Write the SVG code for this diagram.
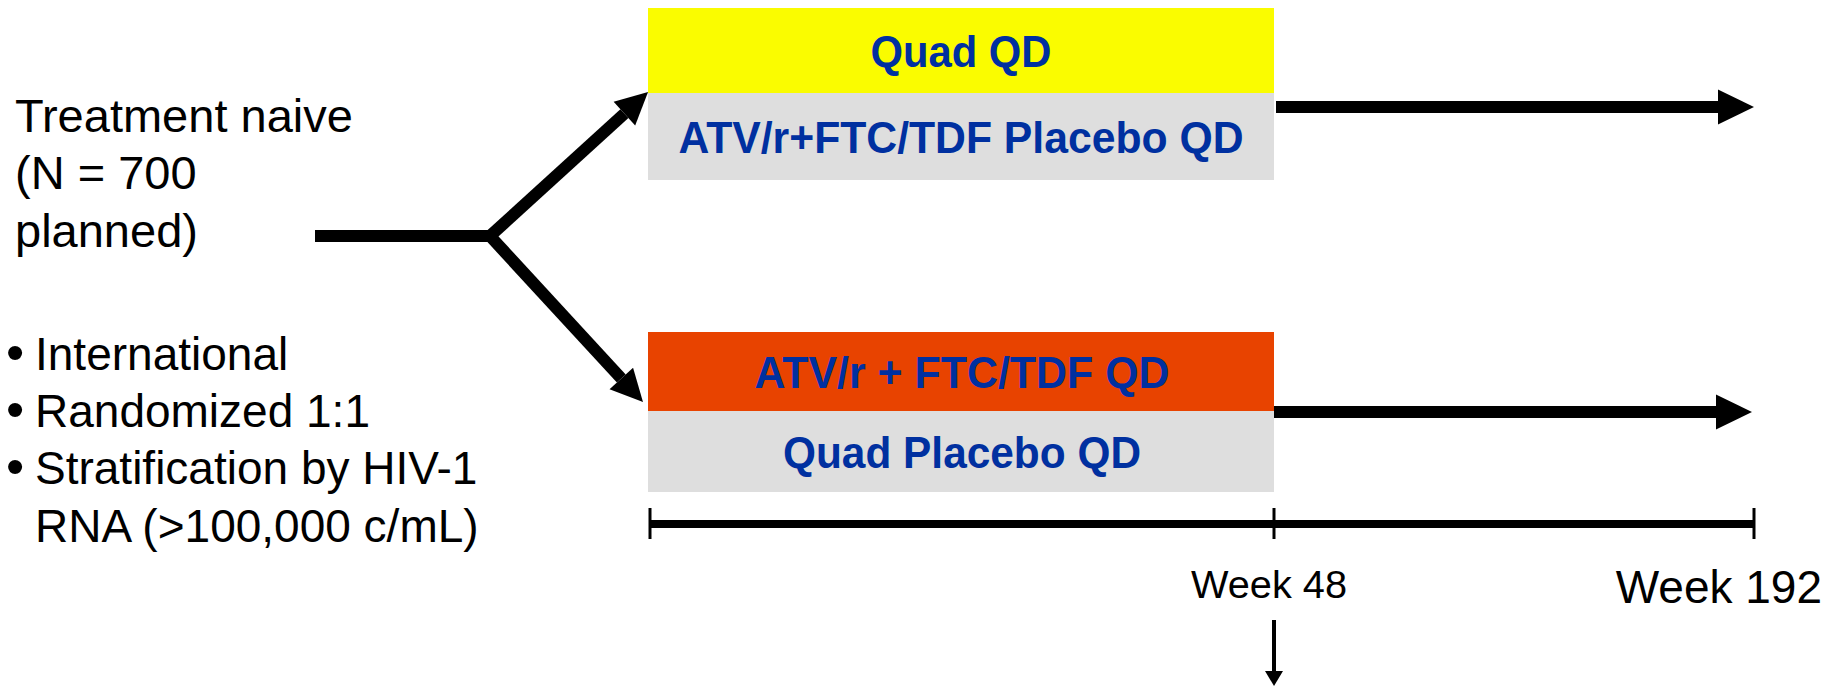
<svg xmlns="http://www.w3.org/2000/svg" width="1831" height="686" viewBox="0 0 1831 686">
<style>
.lbl{font-family:"Liberation Sans",Arial,sans-serif;fill:#000}
.box{font-family:"Liberation Sans",Arial,sans-serif;font-weight:bold;font-size:44px;fill:#0030A0;text-anchor:middle}
.thick{stroke:#000;stroke-width:12;fill:none}
.tick{stroke:#000;stroke-width:3}
.bul{font-size:52px}
</style>
<defs>
<marker id="headD" markerUnits="userSpaceOnUse" markerWidth="40" markerHeight="40" viewBox="0 -20 40 40" refX="0" refY="0" orient="auto" overflow="visible"><path d="M0,-16 L32,0 L0,16 Z" fill="#000"/></marker>
<marker id="headH" markerUnits="userSpaceOnUse" markerWidth="40" markerHeight="40" viewBox="0 -20 40 40" refX="0" refY="0" orient="auto" overflow="visible"><path d="M0,-17.5 L36,0 L0,17.5 Z" fill="#000"/></marker>
<marker id="headS" markerUnits="userSpaceOnUse" markerWidth="20" markerHeight="20" viewBox="0 -10 20 20" refX="0" refY="0" orient="auto" overflow="visible"><path d="M0,-9 L15,0 L0,9 Z" fill="#000"/></marker>
</defs>
<rect width="1831" height="686" fill="#fff"/>

<g id="population">
<text class="lbl" font-size="47" x="15" y="132">Treatment naive</text>
<text class="lbl" font-size="47" x="15" y="189">(N = 700</text>
<text class="lbl" font-size="47" x="15" y="247">planned)</text>
</g>

<g id="design-notes">
<text class="lbl" font-size="46" y="370"><tspan class="bul" x="6">•</tspan><tspan x="35">International</tspan></text>
<text class="lbl" font-size="46" y="427"><tspan class="bul" x="6">•</tspan><tspan x="35">Randomized 1:1</tspan></text>
<text class="lbl" font-size="46" y="484"><tspan class="bul" x="6">•</tspan><tspan x="35">Stratification by HIV-1</tspan></text>
<text class="lbl" font-size="46" x="35" y="542">RNA (&gt;100,000 c/mL)</text>
</g>

<g id="arm1">
<rect x="648" y="8" width="626" height="85" fill="#FAFC00"/>
<rect x="648" y="93" width="626" height="87" fill="#DEDEDE"/>
<text class="box" x="961" y="67" textLength="181" lengthAdjust="spacingAndGlyphs">Quad QD</text>
<text class="box" x="961" y="153" textLength="565" lengthAdjust="spacingAndGlyphs">ATV/r+FTC/TDF Placebo QD</text>
</g>

<g id="arm2">
<rect x="648" y="332" width="626" height="79" fill="#E84300"/>
<rect x="648" y="411" width="626" height="81" fill="#DEDEDE"/>
<text class="box" x="962" y="388" textLength="415" lengthAdjust="spacingAndGlyphs">ATV/r + FTC/TDF QD</text>
<text class="box" x="962" y="468" textLength="358" lengthAdjust="spacingAndGlyphs">Quad Placebo QD</text>
</g>

<g id="connectors">
<path class="thick" d="M315,236 L490,236"/>
<path class="thick" d="M490,236 L624.4,113.6" marker-end="url(#headD)"/>
<path class="thick" d="M490,236 L621.3,378.5" marker-end="url(#headD)"/>
<path class="thick" d="M1276,107 L1718,107" marker-end="url(#headH)"/>
<path class="thick" d="M1274,412 L1716,412" marker-end="url(#headH)"/>
<path d="M1274,620 L1274,671" stroke="#000" stroke-width="4" marker-end="url(#headS)"/>
</g>

<g id="timeline">
<line x1="650" y1="524" x2="1754" y2="524" stroke="#000" stroke-width="8"/>
<line class="tick" x1="650" y1="508" x2="650" y2="539"/>
<line class="tick" x1="1274" y1="508" x2="1274" y2="539"/>
<line class="tick" x1="1754" y1="508" x2="1754" y2="539"/>
<text class="lbl" font-size="38" x="1269" y="598" text-anchor="middle" textLength="156" lengthAdjust="spacingAndGlyphs">Week 48</text>
<text class="lbl" font-size="46" x="1822" y="603" text-anchor="end">Week 192</text>
</g>
</svg>
